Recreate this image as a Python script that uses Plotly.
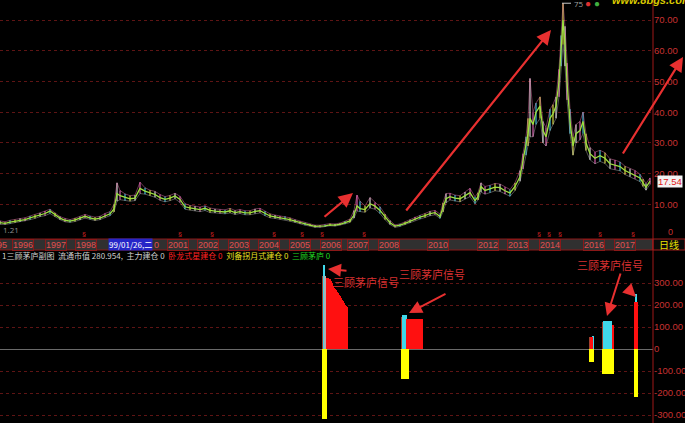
import plotly.graph_objects as go

W, H = 685, 423

# ---------------- price data (bar index, close / high / low) ----------------
bar_idx = [0, 5, 10, 15, 20, 25, 30, 35, 40, 45,
           50, 55, 60, 65, 70, 75, 80, 85, 90, 95,
           100, 105, 110, 114, 117, 120, 125, 130, 135, 140,
           145, 150, 155, 160, 165, 170, 175, 180, 185, 190,
           195, 200, 205, 210, 215, 220, 225, 230, 235, 240,
           245, 250, 255, 260, 265, 270, 275, 280, 285, 290,
           295, 300, 305, 310, 315, 320, 325, 330, 335, 340,
           345, 350, 354, 357, 360, 365, 370, 375, 380, 385,
           390, 395, 400, 405, 410, 415, 420, 425, 430, 435,
           440, 443, 446, 450, 455, 460, 465, 470, 475, 478,
           481, 485, 490, 495, 500, 505, 510, 515, 520, 523,
           526, 528, 530, 533, 536, 540, 543, 546, 550, 553,
           556, 559, 561, 563, 565, 567, 570, 573, 576, 580,
           583, 586, 590, 595, 600, 605, 610, 615, 620, 625,
           630, 635, 640, 643, 646, 650]
close = [4.0, 3.8, 4.2, 4.5, 4.8, 5.0, 5.6, 6.0, 6.6, 7.0,
         7.8, 6.6, 5.5, 4.8, 4.5, 4.9, 5.4, 6.1, 5.6, 5.2,
         5.5, 6.3, 6.9, 8.5, 13.5, 12.8, 12.2, 11.8, 12.0, 15.2,
         14.3, 13.7, 13.2, 12.2, 11.6, 12.0, 12.7, 11.6, 9.2, 8.8,
         8.6, 8.3, 8.7, 8.0, 7.8, 7.6, 7.5, 7.9, 7.3, 7.6,
         7.2, 7.2, 7.7, 7.9, 7.0, 6.2, 5.9, 5.6, 5.5, 5.0,
         4.5, 4.0, 3.6, 3.2, 2.8, 2.8, 3.0, 3.3, 3.2, 3.5,
         4.0, 4.6, 6.5, 9.5, 8.6, 8.3, 10.2, 9.4, 8.0, 5.8,
         4.0, 2.9, 3.2, 3.8, 4.5, 5.3, 5.8, 6.3, 7.0, 7.3,
         6.0, 9.0, 11.8, 12.5, 12.0, 11.8, 12.8, 13.8, 11.2, 12.5,
         15.8, 14.5, 15.0, 15.6, 15.4, 14.4, 13.7, 15.8, 19.0, 24.0,
         29.0, 33.0, 38.0, 36.0, 40.0, 42.0, 34.0, 32.0, 38.0, 39.5,
         42.0, 50.0, 60.0, 70.0, 62.0, 50.0, 37.0, 29.0, 33.0, 34.0,
         37.0, 30.0, 26.5, 25.0, 25.8, 25.0, 23.2, 22.8, 22.3, 21.0,
         20.2, 19.6, 18.6, 17.0, 15.5, 17.54]
high = [4.6, 4.3, 4.8, 5.0, 5.4, 5.6, 6.2, 6.6, 7.2, 7.8,
        8.4, 7.2, 6.0, 5.4, 5.0, 5.5, 6.0, 6.7, 6.2, 5.8,
        6.1, 7.0, 7.6, 10.0, 17.0, 14.5, 13.4, 12.8, 13.0, 17.2,
        15.4, 14.6, 14.2, 13.2, 12.5, 12.9, 13.6, 12.6, 10.2, 9.6,
        9.4, 9.1, 9.5, 8.8, 8.5, 8.3, 8.2, 8.7, 8.0, 8.3,
        7.9, 7.9, 8.5, 8.7, 7.8, 6.9, 6.5, 6.2, 6.1, 5.6,
        5.0, 4.5, 4.0, 3.6, 3.2, 3.2, 3.4, 3.7, 3.6, 3.9,
        4.5, 5.2, 8.0, 13.0, 11.0, 9.5, 12.2, 10.6, 9.2, 6.8,
        4.7, 3.3, 3.6, 4.3, 5.0, 5.9, 6.4, 7.0, 7.7, 8.0,
        6.8, 10.5, 13.5, 13.6, 13.0, 12.8, 14.0, 15.2, 12.4, 13.8,
        17.0, 15.8, 16.2, 16.8, 16.6, 15.6, 14.8, 17.0, 21.0, 26.5,
        32.0, 38.0, 51.0, 40.0, 43.0, 45.0, 37.0, 35.0, 41.0, 42.5,
        45.0, 54.0, 65.0, 75.5, 68.0, 56.0, 41.0, 32.0, 36.0, 37.0,
        40.0, 33.0, 28.5, 27.0, 27.6, 26.8, 24.8, 24.4, 23.8, 22.4,
        21.6, 21.0, 19.8, 18.2, 16.8, 18.6]
low = [3.5, 3.4, 3.7, 4.0, 4.3, 4.5, 5.0, 5.4, 6.0, 6.3,
       7.0, 6.0, 5.0, 4.3, 4.1, 4.4, 4.9, 5.5, 5.1, 4.7,
       5.0, 5.7, 6.3, 7.5, 11.0, 11.5, 11.2, 11.0, 11.2, 13.5,
       13.3, 12.8, 12.3, 11.3, 10.8, 11.2, 11.8, 10.6, 8.4, 8.1,
       7.9, 7.6, 8.0, 7.3, 7.2, 7.0, 6.9, 7.2, 6.7, 7.0,
       6.6, 6.6, 7.0, 7.2, 6.3, 5.6, 5.4, 5.1, 5.0, 4.5,
       4.1, 3.6, 3.2, 2.9, 2.5, 2.5, 2.7, 3.0, 2.9, 3.2,
       3.6, 4.1, 5.5, 7.8, 7.6, 7.4, 8.8, 8.4, 7.0, 5.0,
       3.4, 2.5, 2.8, 3.4, 4.0, 4.8, 5.2, 5.7, 6.3, 6.6,
       5.4, 7.5, 10.5, 11.4, 11.0, 10.8, 11.7, 12.5, 10.2, 11.4,
       14.0, 13.3, 13.8, 14.4, 14.2, 13.3, 12.6, 14.5, 17.5, 21.5,
       26.0, 29.0, 32.0, 32.0, 36.0, 38.0, 30.0, 29.0, 34.0, 36.0,
       38.0, 45.0, 55.0, 62.0, 55.0, 44.0, 33.0, 26.0, 30.0, 31.0,
       33.0, 27.5, 24.5, 23.2, 24.0, 23.3, 21.6, 21.3, 20.9, 19.7,
       19.0, 18.3, 17.4, 15.8, 14.6, 16.5]

price_ticks = [10, 20, 30, 40, 50, 60, 70]
price_ticktext = ["10.00", "20.00", "30.00", "40.00", "50.00", "60.00", "70.00"]

# ---------------- date band labels (bar index of first bar) ----------------
year_labels = ["1996", "1997", "1998", "2001", "2002", "2003", "2004", "2005", "2006",
               "2007", "2008", "2010", "2012", "2013", "2014", "2016", "2017"]
year_pos = [12, 45, 75, 167, 197, 228, 258, 289, 320,
            347, 378, 427, 477, 507, 539, 583, 614]
cursor_label = "99/01/26,二"
cursor_pos = 108
info_marks = [84, 180, 212, 274, 302, 322, 364, 539, 549, 560, 600, 633]

# ---------------- indicator data (bar index, value) ----------------
red_x = list(range(327, 348)) + list(range(407, 423)) + [591, 592, 613, 635, 636, 637]
red_v = [323, 322, 320, 316, 308, 298, 288, 279, 272, 266, 260, 254, 247, 240, 232, 224, 216, 208, 200, 195, 191] \
        + [136] * 16 + [55, 55, 110, 212, 212, 212]
cyan_x = [324, 403, 404, 405, 406, 593, 604, 605, 606, 607, 608, 609, 610, 611, 636]
cyan_v = [380, 155, 155, 155, 155, 60, 127, 127, 127, 127, 127, 127, 127, 127, 250]
yellow_x = list(range(323, 327)) + list(range(402, 409)) + list(range(590, 594)) + list(range(603, 614)) + [635, 636, 637]
yellow_v = [-320] * 4 + [-136] * 7 + [-60] * 4 + [-115] * 11 + [-218] * 3
white_x = [325]
white_v = [330]
brown_x = [323, 402, 590, 603]
brown_v = [330, 145, 55, 125]

ind_ticks = [-300, -200, -100, 0, 100, 200, 300]
ind_ticktext = ["-300.00", "-200.00", "-100.00", "0", "100.00", "200.00", "300.00"]

title_parts = [("1三顾茅庐副图  流通市值 280.954,  主力建仓 0", "#cfcfcf"),
               ("卧龙式星建仓 0", "#ff2020"),
               ("刘备拐月式建仓 0", "#e8e020"),
               ("三顾茅庐 0", "#20d820")]
signal_text = "三顾茅庐信号"

# ---------------- helpers (pixel -> paper) ----------------
def fx(p):
    return p / W

def fy(p):
    return 1 - p / H

AX_RIGHT = 653
GRID = "#5e1414"
CJK = "Noto Sans CJK SC"

fig = go.Figure()

# price wicks, cycling colours for the speckled look
wick_colors = ["#ffffff", "#ff70d0", "#48e0ff", "#ffff50"]
for k, c in enumerate(wick_colors):
    xs, ys = [], []
    for i in range(k, len(bar_idx), 4):
        xs += [bar_idx[i], bar_idx[i], None]
        ys += [low[i], high[i], None]
    fig.add_trace(go.Scatter(x=xs, y=ys, mode="lines", line=dict(color=c, width=1),
                             xaxis="x", yaxis="y", hoverinfo="skip", showlegend=False))
fig.add_trace(go.Scatter(x=bar_idx, y=high, mode="lines", line=dict(color="#ff80c0", width=0.7),
                         xaxis="x", yaxis="y", hoverinfo="skip", showlegend=False, opacity=0.6))
fig.add_trace(go.Scatter(x=bar_idx, y=low, mode="lines", line=dict(color="#e8e8e8", width=0.7),
                         xaxis="x", yaxis="y", hoverinfo="skip", showlegend=False, opacity=0.5))
fig.add_trace(go.Scatter(x=bar_idx, y=close, mode="lines", line=dict(color="#9ee040", width=1.3),
                         xaxis="x", yaxis="y", hoverinfo="skip", showlegend=False))

# indicator bars
def add_bars(xv, yv, color):
    fig.add_trace(go.Bar(x=xv, y=yv, width=1, marker=dict(color=color, line=dict(width=0)),
                         xaxis="x2", yaxis="y2", hoverinfo="skip", showlegend=False))

add_bars(yellow_x, yellow_v, "#ffff00")
add_bars(brown_x, brown_v, "#a04030")
add_bars(cyan_x, cyan_v, "#40d8ea")
add_bars(white_x, white_v, "#b0b0b0")
add_bars(red_x, red_v, "#ff1010")

shapes = []
annotations = []

# date band
shapes.append(dict(type="rect", xref="paper", yref="paper", x0=0, x1=fx(AX_RIGHT),
                   y0=fy(250), y1=fy(239), fillcolor="#303030", line=dict(color="#8a1818", width=1), layer="below"))
shapes.append(dict(type="rect", xref="paper", yref="paper", x0=fx(AX_RIGHT), x1=1,
                   y0=fy(250), y1=fy(239), fillcolor="#0a0a0a", line=dict(color="#a01c1c", width=1)))
# right axis frame line
shapes.append(dict(type="line", xref="paper", yref="paper", x0=fx(AX_RIGHT), x1=fx(AX_RIGHT),
                   y0=0, y1=1, line=dict(color="#a01818", width=1)))

band_y = fy(244.5)
annotations.append(dict(xref="x", yref="paper", x=9, y=band_y, text="1995", showarrow=False,
                        xanchor="right", yanchor="middle", font=dict(color="#e05050", size=9, family="Liberation Sans")))
for lab, pos in zip(year_labels, year_pos):
    annotations.append(dict(xref="x", yref="paper", x=pos, y=band_y, text=lab, showarrow=False,
                            xanchor="left", yanchor="middle", bgcolor="#333333", bordercolor="#8a1818",
                            borderwidth=1, borderpad=0,
                            font=dict(color="#e05050", size=9, family="Liberation Sans")))
annotations.append(dict(xref="x", yref="paper", x=cursor_pos, y=band_y, text=cursor_label, showarrow=False,
                        xanchor="left", yanchor="middle", bgcolor="#2626c8", borderpad=0,
                        font=dict(color="#ffffff", size=8, family=CJK)))
annotations.append(dict(xref="x", yref="paper", x=152, y=band_y, text="0", showarrow=False,
                        xanchor="left", yanchor="middle", font=dict(color="#e05050", size=9, family="Liberation Sans")))
annotations.append(dict(xref="paper", yref="paper", x=fx(669), y=band_y, text="日线", showarrow=False,
                        xanchor="center", yanchor="middle", font=dict(color="#e8e000", size=10, family=CJK)))
annotations.append(dict(xref="paper", yref="paper", x=fx(670), y=fy(232), text="0", showarrow=False,
                        xanchor="center", yanchor="middle", font=dict(color="#c83232", size=9, family="Liberation Sans")))
for m in info_marks:
    annotations.append(dict(xref="x", yref="paper", x=m, y=fy(233), text="§", showarrow=False,
                            xanchor="center", yanchor="middle", font=dict(color="#d02020", size=8)))

# price extremes / last price
peak_i = high.index(max(high))
shapes.append(dict(type="line", xref="x", yref="y", x0=bar_idx[peak_i] - 1, x1=bar_idx[peak_i] + 8,
                   y0=max(high), y1=max(high), line=dict(color="#c8c8c8", width=1)))
annotations.append(dict(xref="x", yref="y", x=bar_idx[peak_i] + 9, y=max(high), text="75", showarrow=False,
                        xanchor="left", yanchor="middle", font=dict(color="#a0a0a0", size=8)))
annotations.append(dict(xref="paper", yref="paper", x=fx(588), y=fy(3), text="●", showarrow=False,
                        xanchor="center", yanchor="middle", font=dict(color="#e03030", size=10)))
annotations.append(dict(xref="paper", yref="paper", x=fx(597), y=fy(3), text="●", showarrow=False,
                        xanchor="center", yanchor="middle", font=dict(color="#40b040", size=10)))
annotations.append(dict(xref="paper", yref="paper", x=fx(610), y=fy(0), text="<b><i>www.8bgs.com</i></b>",
                        showarrow=False, xanchor="left", yanchor="middle",
                        font=dict(color="#d8c800", size=11, family="Liberation Sans")))
annotations.append(dict(xref="paper", yref="paper", x=fx(1), y=fy(229), text="1.21", showarrow=False,
                        xanchor="left", yanchor="middle", font=dict(color="#909090", size=8)))
annotations.append(dict(xref="paper", yref="y", x=fx(670), y=close[-1], text=f"{close[-1]:.2f}", showarrow=False,
                        xanchor="center", yanchor="middle", bgcolor="#f2f2f2", borderpad=0,
                        font=dict(color="#e02020", size=9.5, family="Liberation Sans")))

# red arrows (pixel positions of head / tail)
arrows = [((353, 193), (323, 218), 2.2), ((551, 30), (405, 212), 2.2), ((683, 57), (622, 155), 2.2),
          ((328, 269), (348, 271), 2.0), ((409, 313), (447, 293), 2.0), ((607, 316), (621, 272), 2.0),
          ((636, 297), (627, 288), 2.0)]
for (hx, hy), (tx, ty), w in arrows:
    annotations.append(dict(xref="paper", yref="paper", x=fx(hx), y=fy(hy), axref="pixel", ayref="pixel",
                            ax=tx - hx, ay=ty - hy, text="", showarrow=True, arrowhead=2, arrowsize=1.3,
                            arrowwidth=w, arrowcolor="#e83030", standoff=0))

# signal labels
for cx, cy in [(366, 282), (432, 274), (610, 265)]:
    annotations.append(dict(xref="paper", yref="paper", x=fx(cx), y=fy(cy), text=signal_text, showarrow=False,
                            xanchor="center", yanchor="middle", font=dict(color="#d83030", size=11, family=CJK)))

# indicator title line
title_html = "  ".join(f'<span style="color:{c}">{t}</span>' for t, c in title_parts)
annotations.append(dict(xref="paper", yref="paper", x=0, y=fy(255), text=title_html, showarrow=False,
                        xanchor="left", yanchor="middle", font=dict(color="#cfcfcf", size=8, family=CJK)))

tickfont = dict(color="#c83232", size=9.5, family="Liberation Sans")
fig.update_layout(
    width=W, height=H, margin=dict(l=0, r=0, t=0, b=0, autoexpand=False),
    paper_bgcolor="#000000", plot_bgcolor="#000000",
    barmode="overlay", bargap=0, showlegend=False,
    xaxis=dict(domain=[0, fx(AX_RIGHT)], range=[0, AX_RIGHT], showgrid=False, zeroline=False,
               showticklabels=False, ticks="", anchor="y", automargin=False),
    yaxis=dict(domain=[fy(235), 1], range=[0, 235 / 3.07], side="right", anchor="x", automargin=False,
               tickvals=price_ticks, ticktext=price_ticktext, tickfont=tickfont, ticks="",
               showgrid=True, gridcolor=GRID, griddash="dot", gridwidth=1, zeroline=False),
    xaxis2=dict(domain=[0, fx(AX_RIGHT)], range=[0, AX_RIGHT], showgrid=False, zeroline=False,
                showticklabels=False, ticks="", anchor="y2", automargin=False),
    yaxis2=dict(domain=[0, fy(258)], range=[-(423 - 349) / 0.22, (349 - 258) / 0.22], side="right", anchor="x2",
                automargin=False,
                tickvals=ind_ticks, ticktext=ind_ticktext, tickfont=tickfont, ticks="",
                showgrid=True, gridcolor=GRID, griddash="dot", gridwidth=1,
                zeroline=True, zerolinecolor="#6a6a6a", zerolinewidth=1),
    shapes=shapes, annotations=annotations,
)

fig.write_html("out.html", config={"displayModeBar": False},
               post_script="document.body.style.margin='0';document.body.style.padding='0';"
                           "document.body.style.background='#000';")
